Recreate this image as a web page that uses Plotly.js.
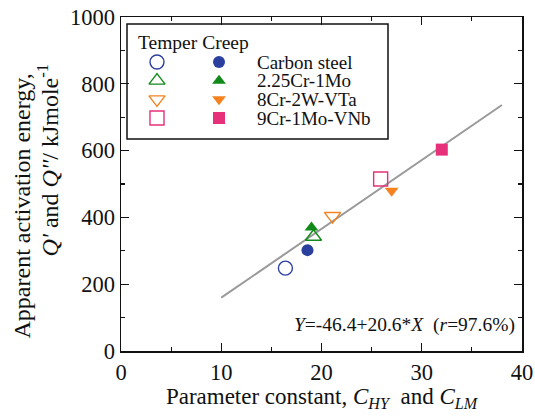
<!DOCTYPE html>
<html>
<head>
<meta charset="utf-8">
<script src="https://cdn.plot.ly/plotly-3.0.1.min.js"></script>
<style>
  html, body { margin: 0; padding: 0; background: #fff; }
  #chart { width: 535px; height: 417px; }
</style>
</head>
<body>
<div id="chart"></div>
<script>
// Steels and their measured parameter constants / activation energies
const materials = ['Carbon steel', '2.25Cr-1Mo', '8Cr-2W-VTa', '9Cr-1Mo-VNb'];
const colors = ['#2b3f9e', '#128a1a', '#f5821f', '#e6307a'];
const temperSymbols = ['circle-open', 'triangle-up-open', 'triangle-down-open', 'square-open'];
const creepSymbols = ['circle', 'triangle-up', 'triangle-down', 'square'];

// Tempering: C_HY vs Q'
const temperX = [16.4, 19.2, 21.1, 25.9];
const temperY = [248, 342, 404, 515];
// Creep: C_LM vs Q''
const creepX = [18.6, 19.0, 27.0, 32.0];
const creepY = [302, 370, 480, 603];

// Regression line Y = a + b*X
const fitIntercept = -46.4;
const fitSlope = 20.6;
const fitRange = [10, 38];
const fitR = 97.6;

// Axis titles
const xTitle = 'Parameter constant, <i>C<sub>HY</sub></i>  and <i>C<sub>LM</sub></i>';
const yTitleLines = ['Apparent activation energy,', '<i>Q\'</i> and <i>Q\'\'</i>/ kJmole<sup>-1</sup>'];

const FONT = 'Liberation Serif';

const traces = [];

// regression line
traces.push({
  x: fitRange,
  y: fitRange.map(v => fitIntercept + fitSlope * v),
  mode: 'lines',
  line: { color: '#9a9a9a', width: 2 },
  hoverinfo: 'skip',
  showlegend: false
});

// data points
materials.forEach((m, i) => {
  traces.push({
    x: [temperX[i]], y: [temperY[i]], mode: 'markers', name: m + ' (temper)',
    marker: { symbol: temperSymbols[i], size: 14, color: colors[i], line: { width: 1.4, color: colors[i] } },
    showlegend: false
  });
  traces.push({
    x: [creepX[i]], y: [creepY[i]], mode: 'markers', name: m + ' (creep)',
    marker: { symbol: creepSymbols[i], size: 12, color: colors[i] },
    showlegend: false
  });
});

// key symbols, drawn on a small helper axis inside the key box
const keyRows = materials.map((_, i) => i);
traces.push({
  x: keyRows.map(() => 0), y: keyRows, xaxis: 'x2', yaxis: 'y2', mode: 'markers',
  marker: { symbol: temperSymbols, size: 14, color: colors, line: { width: 1.4, color: colors } },
  hoverinfo: 'skip', showlegend: false
});
traces.push({
  x: keyRows.map(() => 1), y: keyRows, xaxis: 'x2', yaxis: 'y2', mode: 'markers',
  marker: { symbol: creepSymbols, size: 12, color: colors },
  hoverinfo: 'skip', showlegend: false
});

// plot-area geometry in pixels
const W = 535, H = 417;
const L = 121, R = 522, T = 17, B = 351;
const px = x => (x - L) / (R - L);
const py = y => (B - y) / (B - T);

// key layout (pixel centres)
const keyTop = 62, keyBottom = 118;
const rowY = i => keyTop + (keyBottom - keyTop) * i / (materials.length - 1);
const colTemper = 157, colCreep = 219;
const colPad = 0.25;
const colW = colCreep - colTemper;
const rowStep = (keyBottom - keyTop) / (materials.length - 1);

const annotations = [
  {
    xref: 'paper', yref: 'paper', x: px(136), y: py(43), xanchor: 'left', yanchor: 'middle',
    text: 'Temper Creep', showarrow: false, font: { family: FONT, size: 19.5, color: '#111' }
  },
  {
    xref: 'paper', yref: 'paper', x: px(517), y: py(325), xanchor: 'right', yanchor: 'middle',
    text: '<i>Y</i>=' + fitIntercept + '+' + fitSlope + '*<i>X</i>  (<i>r</i>=' + fitR + '%)',
    showarrow: false, font: { family: FONT, size: 19.5, color: '#111' }
  },
  // y-axis title: two rotated lines, both ending near the same height
  {
    xref: 'paper', yref: 'paper', x: px(21), y: py(72), xanchor: 'center', yanchor: 'top',
    textangle: -90, text: yTitleLines[0], showarrow: false,
    font: { family: FONT, size: 24, color: '#111' }
  },
  {
    xref: 'paper', yref: 'paper', x: px(47), y: py(62), xanchor: 'center', yanchor: 'top',
    textangle: -90, text: yTitleLines[1], showarrow: false,
    font: { family: FONT, size: 24, color: '#111' }
  }
];
materials.forEach((m, i) => {
  annotations.push({
    xref: 'paper', yref: 'paper', x: px(255), y: py(rowY(i)), xanchor: 'left', yanchor: 'middle',
    text: m, showarrow: false, font: { family: FONT, size: 19, color: '#111' }
  });
});

const layout = {
  width: W, height: H,
  margin: { l: L, r: W - R, t: T, b: H - B },
  paper_bgcolor: '#fff', plot_bgcolor: '#fff',
  font: { family: FONT, size: 22, color: '#111' },
  showlegend: false,
  xaxis: {
    range: [0, 40], dtick: 10, tick0: 0,
    ticks: 'inside', ticklen: 8, tickwidth: 1.2, tickcolor: '#111',
    minor: { dtick: 5, ticks: 'inside', ticklen: 4, tickwidth: 1.2, tickcolor: '#111' },
    showline: true, linecolor: '#111', linewidth: 1.5, mirror: 'ticks',
    showgrid: false, zeroline: false,
    tickfont: { family: FONT, size: 22.5, color: '#111' },
    title: {
      text: xTitle,
      font: { family: FONT, size: 23, color: '#111' }, standoff: 4
    }
  },
  yaxis: {
    range: [0, 1000], dtick: 200, tick0: 0,
    ticks: 'inside', ticklen: 8, tickwidth: 1.2, tickcolor: '#111',
    minor: { dtick: 100, ticks: 'inside', ticklen: 4, tickwidth: 1.2, tickcolor: '#111' },
    showline: true, linecolor: '#111', linewidth: 1.5, mirror: 'ticks',
    showgrid: false, zeroline: false,
    tickfont: { family: FONT, size: 22.5, color: '#111' }
  },
  // helper axes for the key: column 0 = temper, 1 = creep
  xaxis2: {
    domain: [px(colTemper - colPad * colW), px(colCreep + colPad * colW)],
    range: [-colPad, 1 + colPad], anchor: 'y2',
    visible: false, fixedrange: true
  },
  yaxis2: {
    domain: [py(keyBottom + rowStep / 2), py(keyTop - rowStep / 2)],
    range: [materials.length - 0.5, -0.5], anchor: 'x2',
    visible: false, fixedrange: true
  },
  shapes: [
    {
      type: 'rect', xref: 'paper', yref: 'paper',
      x0: px(127), x1: px(388), y0: py(139), y1: py(24),
      line: { color: '#111', width: 1.5 }, fillcolor: 'rgba(0,0,0,0)'
    }
  ],
  annotations: annotations
};

Plotly.newPlot('chart', traces, layout, { staticPlot: true, displayModeBar: false });
</script>
</body>
</html>
